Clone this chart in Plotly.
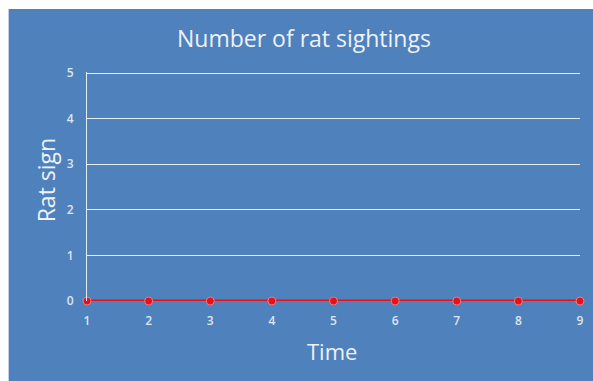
import plotly.graph_objects as go

# Observation times and the number of rat signs recorded at each
time_points = [1, 2, 3, 4, 5, 6, 7, 8, 9]
rat_signs = [0, 0, 0, 0, 0, 0, 0, 0, 0]
y_ticks = [0, 1, 2, 3, 4, 5]

W, H = 593, 381
ML, MR, MT, MB = 87, 9, 72, 80
PW, PH = W - ML - MR, H - MT - MB

BLUE = "#4f81bd"
TEXT = "#eef2f8"
TICK = "#dce6f2"
FONT = "Open Sans"


def px_x(px):
    return (px - ML) / PW


def px_y(py):
    return (H - MB - py) / PH


fig = go.Figure()
fig.add_trace(go.Scatter(
    x=time_points,
    y=rat_signs,
    mode="lines+markers",
    line=dict(color="#e3121c", width=3),
    marker=dict(symbol="circle", size=8, color="#e3121c",
                line=dict(color="#f07a80", width=1)),
    cliponaxis=False,
    showlegend=False,
))

fig.update_layout(
    width=W, height=H,
    margin=dict(l=ML, r=MR, t=MT, b=MB, pad=0),
    paper_bgcolor=BLUE,
    plot_bgcolor="rgba(0,0,0,0)",
    font=dict(family=FONT, color=TICK),
    # white strips along the left and top edges of the chart frame
    shapes=[
        dict(type="rect", xref="paper", yref="paper", layer="below",
             x0=px_x(-20), x1=px_x(8), y0=px_y(H + 20), y1=px_y(-20),
             fillcolor="white", line=dict(width=0)),
        dict(type="rect", xref="paper", yref="paper", layer="below",
             x0=px_x(-20), x1=px_x(W + 20), y0=px_y(9), y1=px_y(-20),
             fillcolor="white", line=dict(width=0)),
    ],
    annotations=[
        dict(text="Number of rat sightings", xref="paper", yref="paper",
             x=px_x(306), y=px_y(38), showarrow=False,
             font=dict(family=FONT, size=23, color=TEXT),
             xanchor="center", yanchor="middle"),
        dict(text="Rat sign", xref="paper", yref="paper",
             x=px_x(46), y=px_y(180), showarrow=False, textangle=-90,
             font=dict(family=FONT, size=23, color=TEXT),
             xanchor="center", yanchor="middle"),
        dict(text="Time", xref="paper", yref="paper",
             x=px_x(334), y=px_y(351), showarrow=False,
             font=dict(family=FONT, size=22, color=TEXT),
             xanchor="center", yanchor="middle"),
    ],
)

fig.update_xaxes(
    range=[1, 9], tickvals=time_points, ticks="",
    showgrid=False, zeroline=False, showline=False,
    tickfont=dict(family=FONT, size=12, color=TICK, weight=600),
    ticklabelstandoff=11,
)
fig.update_yaxes(
    range=[0, 5.025], tickvals=y_ticks, ticks="",
    showgrid=True, gridcolor="#e6edf6", gridwidth=1.2,
    zeroline=False, showline=True, linecolor="#e6edf6", linewidth=1.2,
    tickfont=dict(family=FONT, size=12, color=TICK, weight=600),
    ticklabelstandoff=10,
)

fig.write_html("out.html")
